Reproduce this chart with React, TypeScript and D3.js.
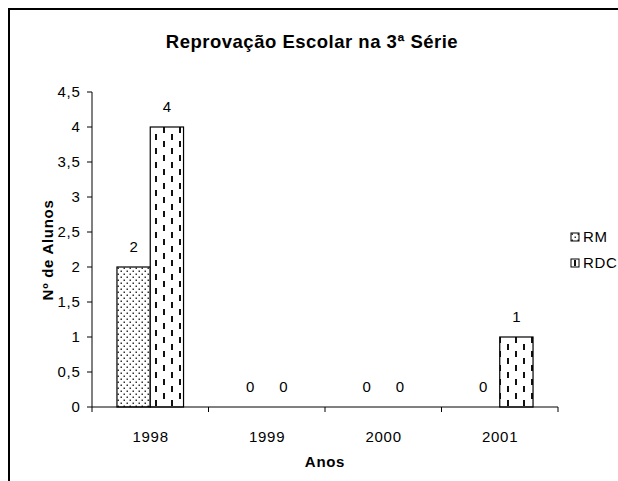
import React from "react";
import * as d3 from "d3";

const categories = ["1998", "1999", "2000", "2001"];
const seriesNames = ["RM", "RDC"];
const rmValues = [2, 0, 0, 0];
const rdcValues = [4, 0, 0, 1];
const yTicks = [0, 0.5, 1, 1.5, 2, 2.5, 3, 3.5, 4, 4.5];

const W = 618;
const H = 481;
const FONT = "'Liberation Sans', Arial, Helvetica, sans-serif";
const LS = 0.7;

export default function App() {
  const plotL = 92;
  const plotR = 558;
  const plotT = 92;
  const plotB = 407;

  const x = d3.scaleBand<string>().domain(categories).range([plotL, plotR]).paddingInner(0).paddingOuter(0);
  const y = d3.scaleLinear().domain([0, 4.5]).range([plotB, plotT]);
  const bw = x.bandwidth();
  const barW = bw / 3.5; // gap width 150%
  const groupOffset = (bw - 2 * barW) / 2;
  const series = [
    { name: seriesNames[0], values: rmValues, fill: "url(#dots)" },
    { name: seriesNames[1], values: rdcValues, fill: "url(#dashes)" },
  ];
  const fmt = (v: number) => String(v).replace(".", ",");

  return (
    <svg
      width={W}
      height={H}
      style={{ position: "absolute", left: 0, top: 0, background: "#fff" }}
      fontFamily={FONT}
    >
      <defs>
        <pattern id="dots" width="6" height="6" patternUnits="userSpaceOnUse">
          <rect width="6" height="6" fill="#fff" />
          <rect x="0.5" y="0.5" width="1.5" height="1.5" fill="#333" />
          <rect x="3.5" y="3.5" width="1.5" height="1.5" fill="#333" />
        </pattern>
        <pattern id="dashes" width="16" height="14" patternUnits="userSpaceOnUse">
          <rect width="16" height="14" fill="#fff" />
          <rect x="3" y="1" width="2" height="6" fill="#111" />
          <rect x="11" y="8" width="2" height="6" fill="#111" />
        </pattern>
      </defs>
      <rect x={0} y={0} width={W} height={H} fill="#fff" />
      {/* outer frame */}
      <path d={`M9,${H + 5} L9,9 L${W + 5},9`} fill="none" stroke="#000" strokeWidth={2} />

      {/* title */}
      <text x={312} y={48} textAnchor="middle" fontSize={18.5} fontWeight="bold" letterSpacing={0.5}>
        Reprovação Escolar na 3ª Série
      </text>

      {/* bars */}
      {series.map((s, si) =>
        s.values.map((v, ci) => {
          const bx = (x(categories[ci]) as number) + groupOffset + si * barW;
          const by = y(v);
          return (
            <g key={`${si}-${ci}`}>
              {v > 0 && (
                <rect x={bx} y={by} width={barW} height={plotB - by} fill={s.fill} stroke="#000" strokeWidth={1.2} />
              )}
              <text x={bx + barW / 2} y={by - 15} textAnchor="middle" fontSize={15}>
                {fmt(v)}
              </text>
            </g>
          );
        })
      )}

      {/* y axis */}
      <line x1={plotL} x2={plotL} y1={plotT} y2={plotB} stroke="#000" strokeWidth={1} />
      {yTicks.map((t) => (
        <g key={t}>
          <line x1={plotL - 5} x2={plotL} y1={y(t)} y2={y(t)} stroke="#000" />
          <text x={plotL - 11.5} y={y(t)} dy="0.36em" textAnchor="end" fontSize={15} letterSpacing={LS}>
            {fmt(t)}
          </text>
        </g>
      ))}

      {/* x axis */}
      <line x1={plotL} x2={plotR} y1={plotB} y2={plotB} stroke="#000" strokeWidth={1} />
      {[...categories.map((c) => x(c) as number), plotR].map((tx, i) => (
        <line key={i} x1={tx} x2={tx} y1={plotB} y2={plotB + 5} stroke="#000" />
      ))}
      {categories.map((c) => (
        <text key={c} x={(x(c) as number) + bw / 2 + LS / 2} y={442} textAnchor="middle" fontSize={15} letterSpacing={LS}>
          {c}
        </text>
      ))}

      {/* axis titles */}
      <text x={325} y={467} textAnchor="middle" fontSize={15} fontWeight="bold" letterSpacing={LS}>
        Anos
      </text>
      <text
        transform={`translate(53,250) rotate(-90)`}
        textAnchor="middle"
        fontSize={15}
        fontWeight="bold"
        letterSpacing={LS}
      >
        Nº de Alunos
      </text>

      {/* legend */}
      {series.map((s, i) => (
        <g key={s.name} transform={`translate(571,${233 + i * 26})`}>
          <rect x={0} y={0} width={8} height={8} fill={s.fill} stroke="#000" strokeWidth={1} />
          <text x={12} y={4} dy="0.36em" fontSize={15} letterSpacing={LS}>
            {s.name}
          </text>
        </g>
      ))}
    </svg>
  );
}
